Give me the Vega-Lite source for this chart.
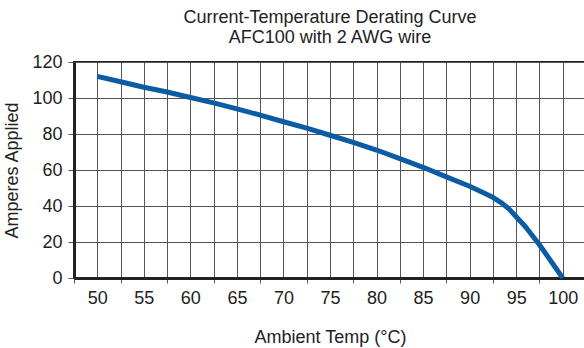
{
  "$schema": "https://vega.github.io/schema/vega-lite/v6.json",
  "autosize": {"type": "none"},
  "width": 512,
  "height": 216,
  "padding": {"left": 74, "top": 62, "right": 0, "bottom": 70},
  "background": "white",
  "title": {
    "text": ["Current-Temperature Derating Curve", "AFC100 with 2 AWG wire"],
    "font": "Liberation Sans",
    "fontSize": 18,
    "fontWeight": "normal",
    "color": "#222222",
    "lineHeight": 20,
    "anchor": "middle",
    "offset": 6
  },
  "config": {
    "font": "Liberation Sans",
    "view": {"stroke": "#222222", "strokeWidth": 2},
    "axis": {
      "labelFont": "Liberation Sans",
      "titleFont": "Liberation Sans",
      "labelFontSize": 18,
      "titleFontSize": 18,
      "titleFontWeight": "normal",
      "labelColor": "#222222",
      "titleColor": "#222222",
      "gridColor": "#555555",
      "gridWidth": 1,
      "gridOpacity": 1,
      "domainColor": "#222222",
      "domainWidth": 3,
      "tickColor": "#555555",
      "tickWidth": 1
    }
  },
  "data": {
    "values": [
      {"temp": 50, "amps": 112},
      {"temp": 52.5, "amps": 109},
      {"temp": 55, "amps": 106},
      {"temp": 57.5, "amps": 103.3},
      {"temp": 60, "amps": 100.3},
      {"temp": 62.5, "amps": 97.3},
      {"temp": 65, "amps": 94},
      {"temp": 67.5, "amps": 90.5},
      {"temp": 70, "amps": 86.8},
      {"temp": 72.5, "amps": 83.3},
      {"temp": 75, "amps": 79.3},
      {"temp": 77.5, "amps": 75.4},
      {"temp": 80, "amps": 71.1},
      {"temp": 82.5, "amps": 66.3},
      {"temp": 85, "amps": 61.5},
      {"temp": 87.5, "amps": 56.2},
      {"temp": 90, "amps": 51},
      {"temp": 92.5, "amps": 44.8},
      {"temp": 93.5, "amps": 41.5},
      {"temp": 94.3, "amps": 38},
      {"temp": 95, "amps": 34},
      {"temp": 96, "amps": 28.5},
      {"temp": 97.5, "amps": 18.5},
      {"temp": 100, "amps": 0}
    ]
  },
  "mark": {"type": "line", "color": "#0b5ba5", "strokeWidth": 5, "strokeCap": "butt", "strokeJoin": "round", "clip": false},
  "encoding": {
    "x": {
      "field": "temp",
      "type": "quantitative",
      "scale": {"domain": [47.5, 102.5], "nice": false, "zero": false},
      "axis": {
        "title": "Ambient Temp (°C)",
        "values": [47.5, 50, 52.5, 55, 57.5, 60, 62.5, 65, 67.5, 70, 72.5, 75, 77.5, 80, 82.5, 85, 87.5, 90, 92.5, 95, 97.5, 100, 102.5],
        "labelExpr": "datum.value % 5 === 0 ? format(datum.value, 'd') : ''",
        "labelOverlap": false,
        "labelBound": false,
        "labelFlush": false,
        "tickSize": 5,
        "tickOpacity": {"condition": {"test": "datum.value % 5 === 0", "value": 0}, "value": 1},
        "labelPadding": 6,
        "titlePadding": 21,
        "grid": true
      }
    },
    "y": {
      "field": "amps",
      "type": "quantitative",
      "scale": {"domain": [0, 120], "nice": false},
      "axis": {
        "title": "Amperes Applied",
        "values": [0, 20, 40, 60, 80, 100, 120],
        "tickSize": 6,
        "labelPadding": 6,
        "titlePadding": 10,
        "grid": true
      }
    }
  }
}
